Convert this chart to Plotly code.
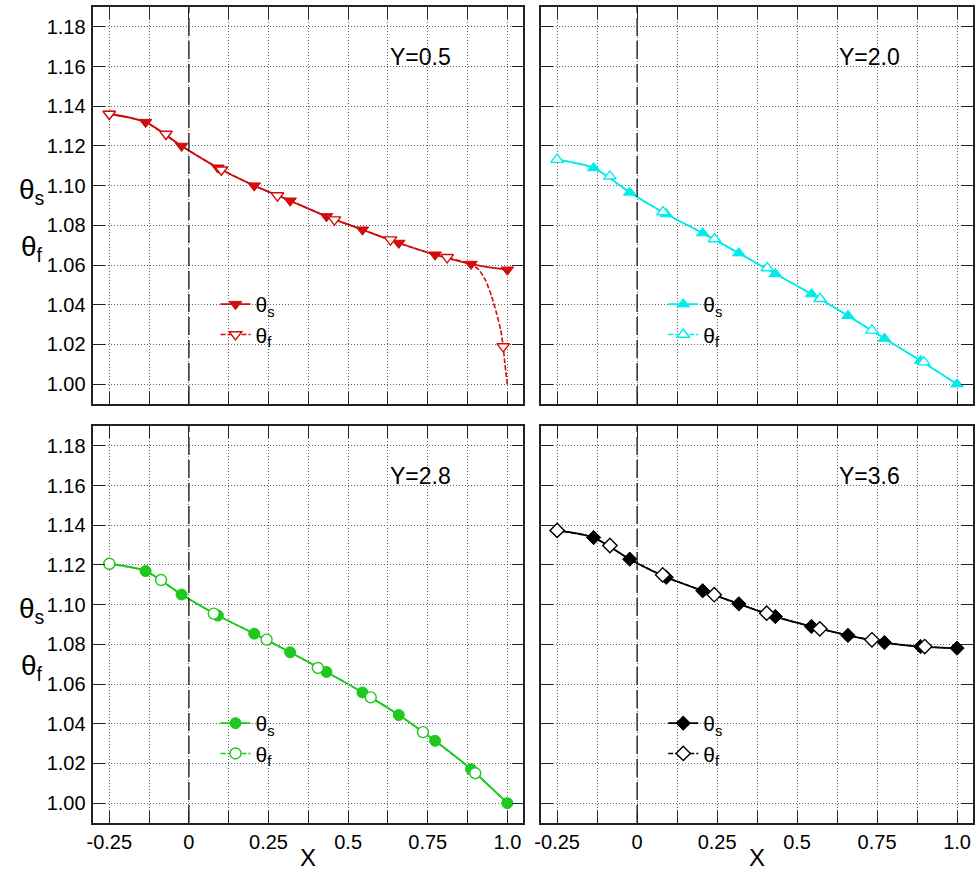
import plotly.graph_objects as go

# ---------------- data ----------------
panel_labels = ["Y=0.5", "Y=2.0", "Y=2.8", "Y=3.6"]
colors = ["#d00c0c", "#00ecec", "#1ec81e", "#000000"]
symbols_s = ["triangle-down", "triangle-up", "circle", "diamond"]

x_tickvals = [-0.25, -0.125, 0, 0.125, 0.25, 0.375, 0.5, 0.625, 0.75, 0.875, 1.0]
x_ticktext = ["-0.25", "", "0", "", "0.25", "", "0.5", "", "0.75", "", "1.0"]
y_tickvals = [1.00, 1.02, 1.04, 1.06, 1.08, 1.10, 1.12, 1.14, 1.16, 1.18]
y_ticktext = ["1.00", "1.02", "1.04", "1.06", "1.08", "1.10", "1.12", "1.14", "1.16", "1.18"]

# theta_s (filled markers)
ts_x = [-0.25, -0.136, -0.023, 0.091, 0.205, 0.318, 0.432, 0.545, 0.659, 0.773, 0.886, 1.0]
ts1_y = [1.1361, 1.1320, 1.1200, 1.1090, 1.1000, 1.0924, 1.0845, 1.0778, 1.0711, 1.0652, 1.0605, 1.0576]
ts2_y = [1.1131, 1.1089, 1.0966, 1.0857, 1.0761, 1.0660, 1.0556, 1.0454, 1.0345, 1.0230, 1.0118, 1.0000]
ts3_y = [1.1206, 1.1169, 1.1051, 1.0945, 1.0854, 1.0760, 1.0661, 1.0558, 1.0444, 1.0314, 1.0171, 1.0000]
ts4_y = [1.1374, 1.1338, 1.1229, 1.1138, 1.1070, 1.1004, 1.0940, 1.0890, 1.0845, 1.0809, 1.0789, 1.0781]

# theta_f (open markers)
tf1_x = [-0.25, -0.072, 0.102, 0.278, 0.457, 0.633, 0.811, 0.987]
tf1_y = [1.1361, 1.1260, 1.1080, 1.0950, 1.0829, 1.0728, 1.0639, 1.0190]
tf2_x = [-0.25, -0.085, 0.081, 0.242, 0.407, 0.572, 0.734, 0.896]
tf2_y = [1.1131, 1.1047, 1.0867, 1.0731, 1.0585, 1.0430, 1.0271, 1.0111]
tf3_x = [-0.25, -0.0875, 0.078, 0.244, 0.405, 0.571, 0.735, 0.899]
tf3_y = [1.1206, 1.1124, 1.0955, 1.0824, 1.0681, 1.0533, 1.0358, 1.0151]
tf4_x = [-0.25, -0.085, 0.080, 0.241, 0.405, 0.571, 0.734, 0.899]
tf4_y = [1.1374, 1.1298, 1.1150, 1.1050, 1.0957, 1.0878, 1.0823, 1.0789]

# theta_f curve of Y=0.5 where it leaves theta_s and drops near X=1
tf1_tail_x = [0.911, 0.931, 0.951, 0.966, 0.979, 0.987, 0.992, 1.0]
tf1_tail_y = [1.0575, 1.0525, 1.0440, 1.0357, 1.0273, 1.0190, 1.0106, 1.0000]

ts_y_all = [ts1_y, ts2_y, ts3_y, ts4_y]
tf_x_all = [tf1_x, tf2_x, tf3_x, tf4_x]
tf_y_all = [tf1_y, tf2_y, tf3_y, tf4_y]
tails = [(tf1_tail_x, tf1_tail_y), None, None, None]

# ---------------- layout geometry ----------------
W, H = 977, 873
FONT = "Liberation Sans, Arial, Helvetica, sans-serif"
xdom = [[87 / W, 520 / W], [538 / W, 973 / W]]
ydom = [[1 - 404 / H, 1 - 7 / H], [1 - 823 / H, 1 - 426 / H]]
panel_pos = [(0, 0), (1, 0), (0, 1), (1, 1)]  # (col, row)

fig = go.Figure()
legend_names = ["legend", "legend2", "legend3", "legend4"]

for i in range(4):
    ax = "" if i == 0 else str(i + 1)
    xa, ya = "x" + ax, "y" + ax
    c = colors[i]
    lg = legend_names[i]

    # theta_f dashed curve: follows theta_s, then (Y=0.5) its own drop
    if tails[i] is None:
        cx, cy = list(ts_x), list(ts_y_all[i])
    else:
        keep = [k for k in range(len(ts_x)) if ts_x[k] < tails[i][0][0]]
        cx = [ts_x[k] for k in keep] + list(tails[i][0])
        cy = [ts_y_all[i][k] for k in keep] + list(tails[i][1])
    fig.add_trace(go.Scatter(
        x=cx, y=cy, mode="lines",
        line=dict(color=c, width=1.6, dash="5px,2px", shape="spline", smoothing=0.6),
        xaxis=xa, yaxis=ya, showlegend=False, hoverinfo="skip"))

    # theta_s
    fig.add_trace(go.Scatter(
        x=ts_x, y=ts_y_all[i], mode="lines+markers", name="θ<sub>s</sub>",
        line=dict(color=c, width=1.8, shape="spline", smoothing=0.8),
        marker=dict(symbol=symbols_s[i], size=11, color=c,
                    line=dict(color=c, width=1)),
        xaxis=xa, yaxis=ya, legend=lg))

    # theta_f markers
    fig.add_trace(go.Scatter(
        x=tf_x_all[i], y=tf_y_all[i], mode="markers", name="θ<sub>f</sub>",
        marker=dict(symbol=symbols_s[i], size=11, color="white",
                    line=dict(color=c, width=1.4)),
        xaxis=xa, yaxis=ya, showlegend=False))

    # legend entry for theta_f
    fig.add_trace(go.Scatter(
        x=[None], y=[None], mode="lines+markers", name="θ<sub>f</sub>",
        line=dict(color=c, width=1.6, dash="5px,2px"),
        marker=dict(symbol=symbols_s[i], size=11, color="white",
                    line=dict(color=c, width=1.4)),
        xaxis=xa, yaxis=ya, legend=lg))

layout_axes = {}
for i in range(4):
    col, row = panel_pos[i]
    ax = "" if i == 0 else str(i + 1)
    common = dict(showline=True, linecolor="#222", linewidth=1.5, mirror="ticks",
                  ticks="inside", ticklen=12, tickwidth=1.3, tickcolor="#222",
                  showgrid=True, gridcolor="#666", gridwidth=1, griddash="1px,2px",
                  zeroline=False,
                  tickfont=dict(family=FONT, size=20, color="black"))
    layout_axes["xaxis" + ax] = dict(
        common, domain=xdom[col], range=[-0.3, 1.05], anchor="y" + ax,
        tickmode="array", tickvals=x_tickvals, ticktext=x_ticktext,
        showticklabels=(row == 1), ticklabelstandoff=0)
    layout_axes["yaxis" + ax] = dict(
        common, domain=ydom[row], range=[0.99, 1.19], anchor="x" + ax,
        tickmode="array", tickvals=y_tickvals, ticktext=y_ticktext,
        showticklabels=(col == 0), ticklabelstandoff=2)

shapes = []
annotations = []
legends = {}
for i in range(4):
    col, row = panel_pos[i]
    ax = "" if i == 0 else str(i + 1)
    shapes.append(dict(type="line", xref="x" + ax, yref="y" + ax + " domain",
                       x0=0, x1=0, y0=0, y1=1,
                       line=dict(color="#222", width=1.4, dash="18px,5px")))
    annotations.append(dict(xref="x" + ax, yref="y" + ax, x=0.726, y=1.165,
                            text=panel_labels[i], showarrow=False,
                            xanchor="center", yanchor="middle",
                            font=dict(family=FONT, size=23, color="black")))
    left_px = xdom[col][0] * W
    top_px = (1 - ydom[row][1]) * H
    legends[legend_names[i]] = dict(
        x=(left_px + 123) / W, y=1 - (top_px + 277) / H,
        xanchor="left", yanchor="top", bgcolor="rgba(0,0,0,0)",
        font=dict(family=FONT, size=21, color="black"), tracegroupgap=0)

# X axis titles (below bottom panels) and stacked theta_s / theta_f y titles
for col in range(2):
    annotations.append(dict(xref="paper", yref="paper",
                            x=(xdom[col][0] + xdom[col][1]) / 2, y=0,
                            text="X", showarrow=False, xanchor="center", yanchor="bottom",
                            font=dict(family=FONT, size=24, color="black")))
for row in range(2):
    top_px = (1 - ydom[row][1]) * H
    annotations.append(dict(xref="paper", yref="paper", x=25 / W, y=1 - (top_px + 184) / H,
                            text="θ<sub>s</sub>", showarrow=False,
                            xanchor="center", yanchor="middle",
                            font=dict(family=FONT, size=28, color="black")))
    annotations.append(dict(xref="paper", yref="paper", x=25 / W, y=1 - (top_px + 241) / H,
                            text="θ<sub>f</sub>", showarrow=False,
                            xanchor="center", yanchor="middle",
                            font=dict(family=FONT, size=28, color="black")))

fig.update_layout(
    width=W, height=H, margin=dict(l=0, r=0, t=0, b=0),
    paper_bgcolor="white", plot_bgcolor="white",
    font=dict(family=FONT, color="black"),
    shapes=shapes, annotations=annotations, **layout_axes, **legends)

fig.write_html("out.html", config={"displayModeBar": False},
               post_script="document.body.style.margin='0';document.body.style.overflow='hidden';")
